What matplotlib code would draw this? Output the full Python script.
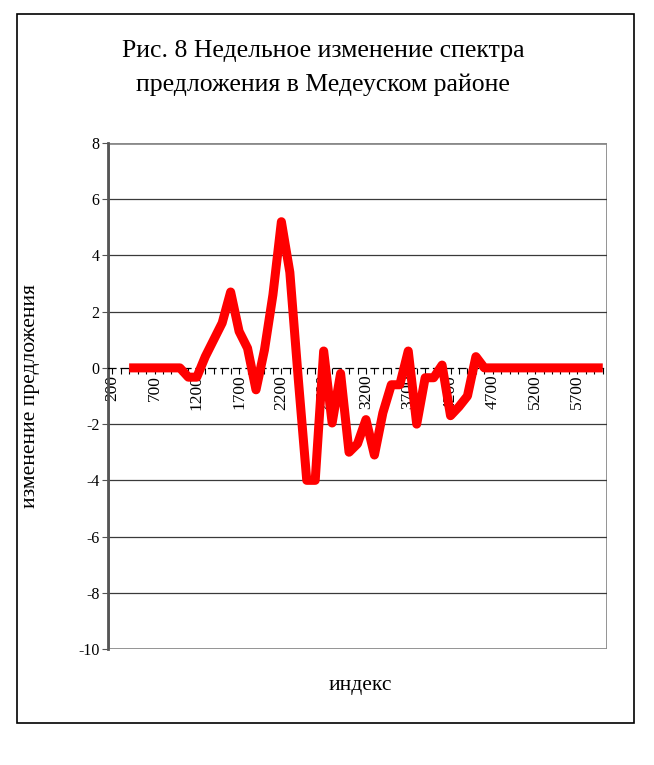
import numpy as np
import matplotlib.pyplot as plt
from matplotlib.patches import Rectangle

# categories 200..6000 step 100 (nan = no data)
categories = list(range(200, 6100, 100))
offer_change = [np.nan, np.nan, 0, 0, 0, 0, 0, 0, 0, -0.33,
                -0.33, 0.4, 1.0, 1.6, 2.7, 1.3, 0.7, -0.78, 0.64, 2.6,
                5.2, 3.4, -0.4, -4.0, -4.0, 0.6, -1.96, -0.2, -3.0, -2.7,
                -1.84, -3.1, -1.6, -0.6, -0.6, 0.6, -2.0, -0.35, -0.35, 0.1,
                -1.7, -1.38, -1.0, 0.4, 0, 0, 0, 0, 0, 0,
                0, 0, 0, 0, 0, 0, 0, 0, 0]
y_ticks = list(range(-10, 9, 2))

title = "Рис. 8 Недельное изменение спектра\nпредложения в Медеуском районе"
serif = ["Liberation Serif", "DejaVu Serif"]

fig = plt.figure(figsize=(6.54, 7.65), dpi=100)

# outer frame of the whole chart
fig.patches.append(Rectangle((17 / 654, 1 - 723 / 765), (634 - 17) / 654, (723 - 14) / 765,
                             transform=fig.transFigure, fill=False, edgecolor="black",
                             linewidth=1.2))

ax = fig.add_axes([108 / 654, 1 - 649 / 765, (607 - 108) / 654, (649 - 143) / 765])

idx = np.arange(len(categories))
ax.plot(idx, offer_change, color="#ff0000", linewidth=6.5, solid_joinstyle="round",
        solid_capstyle="butt", zorder=3)

ax.set_xlim(-0.5, len(categories) - 0.5)
ax.set_ylim(-10, 8)

# gridlines
for yv in y_ticks:
    if yv not in (-10, 0, 8):
        ax.axhline(yv, color="#3a3a3a", linewidth=0.9, zorder=1)

# category axis crosses at zero
ax.spines["bottom"].set_position(("data", 0))
ax.spines["bottom"].set_color("black")
ax.spines["bottom"].set_linewidth(0.9)
ax.spines["bottom"].set_linestyle((0, (6, 4)))
for s in ["top", "right"]:
    ax.spines[s].set_visible(False)
ax.spines["left"].set_color("#555555")
ax.spines["left"].set_linewidth(2)
ax.add_patch(Rectangle((0, 0), 1, 1, transform=ax.transAxes, fill=False,
                       edgecolor="#8a8a8a", linewidth=2, zorder=0.5))

ax.set_xticks(idx[::5])
ax.set_xticklabels([str(c) for c in categories[::5]], rotation=90, family=serif,
                   fontsize=12.5)
ax.set_xticks(idx, minor=True)
ax.tick_params(axis="x", which="both", direction="out", length=4, width=0.8, pad=1)

ax.set_yticks(y_ticks)
ax.set_yticklabels([str(v) for v in y_ticks], family=serif, fontsize=11.5)
ax.tick_params(axis="y", direction="out", length=4, width=0.8, color="#555555", pad=2)

fig.text(0.494, 0.911, title, ha="center", va="center", family=serif, fontsize=18.5,
         linespacing=1.65)
fig.text(0.047, 0.482, "изменение предложения", rotation=90, ha="center", va="center",
         family=serif, fontsize=15.5)
fig.text(0.551, 0.104, "индекс", ha="center", va="center", family=serif, fontsize=15.5)

fig.savefig("out.png", dpi=100)
plt.close(fig)
